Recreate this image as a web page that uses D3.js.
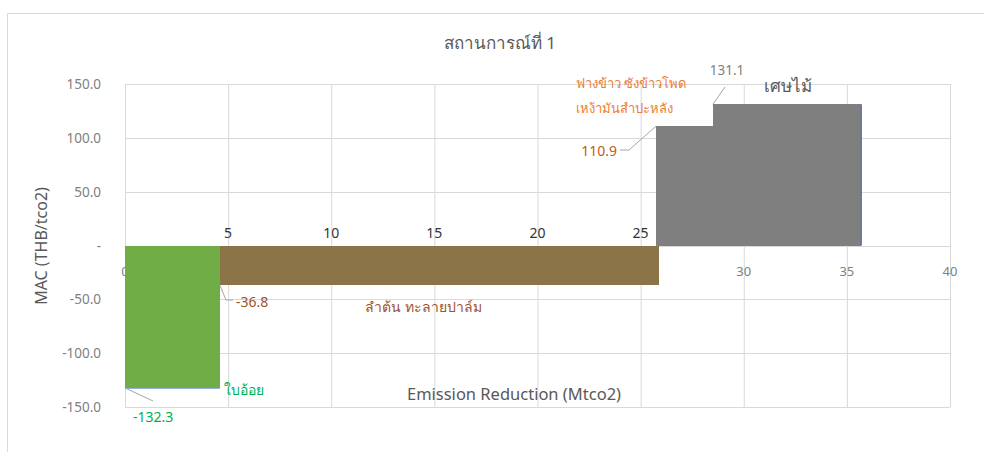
<!DOCTYPE html>
<html><head><meta charset="utf-8">
<script src="https://cdn.jsdelivr.net/npm/d3@7"></script>
<style>body{margin:0;background:#fff}svg{display:block;font-family:"Noto Sans","Open Sans",sans-serif}</style>
</head><body><svg id="c" width="984" height="452"></svg>
<script>
const categories = ["ใบอ้อย", "ลำต้น ทะลายปาล์ม", "ฟางข้าว ซังข้าวโพด เหง้ามันสำปะหลัง", "เศษไม้"];
const xStart = [0, 4.6, 25.75, 28.5];
const xEnd = [4.6, 25.9, 28.5, 35.7];
const mac = [-132.3, -36.8, 110.9, 131.1];
const colors = ["#70AD47", "#8B7447", "#7F7F7F", "#7F7F7F"];
const xTicks = [0, 5, 10, 15, 20, 25, 30, 35, 40];
const yTicks = [150, 100, 50, 0, -50, -100, -150];
const yTickLabels = ["150.0", "100.0", "50.0", "-", "-50.0", "-100.0", "-150.0"];

const svg = d3.select("#c");
const x = d3.scaleLinear().domain([0, 40]).range([125, 950]);
const y = d3.scaleLinear().domain([-150, 150]).range([407, 84]);

// outer border
svg.append("path").attr("d","M7.5,452 V13.5 H984").attr("fill","none").attr("stroke","#d9d9d9").attr("stroke-width",1);

// title
svg.append("text").attr("x",500).attr("y",49).attr("text-anchor","middle")
  .attr("font-size",17).attr("fill","#595959").text("สถานการณ์ที่ 1");

// grid
const g = svg.append("g");
g.selectAll(".vg").data(xTicks).join("line")
  .attr("x1",d=>x(d)+0.5).attr("x2",d=>x(d)+0.5).attr("y1",y(150)).attr("y2",y(-150))
  .attr("stroke","#d9d9d9").attr("stroke-width",1);
g.selectAll(".hg").data(yTicks).join("line")
  .attr("y1",d=>Math.round(y(d))+0.5).attr("y2",d=>Math.round(y(d))+0.5).attr("x1",x(0)).attr("x2",x(40))
  .attr("stroke","#d9d9d9").attr("stroke-width",1);

// y tick labels
svg.selectAll(".yl").data(yTicks).join("text")
  .attr("x",101).attr("y",d=>y(d)+5).attr("text-anchor","end")
  .attr("font-size",13.5).attr("fill","#808080")
  .text((d,i)=>yTickLabels[i]);

// x tick labels below axis (gray)
svg.selectAll(".xl").data(xTicks).join("text")
  .attr("x",d=>x(d)).attr("y",276).attr("text-anchor","middle")
  .attr("font-size",13).attr("fill","#808080").text(d=>d);

// bars
const idx = d3.range(categories.length);
svg.selectAll(".bar").data(idx).join("rect")
  .attr("x",i=>x(xStart[i])).attr("width",i=>x(xEnd[i])-x(xStart[i]))
  .attr("y",i=>y(Math.max(0,mac[i]))).attr("height",i=>Math.abs(y(mac[i])-y(0)))
  .attr("fill",i=>colors[i]).attr("shape-rendering","crispEdges");

// blue edge lines
svg.append("line").attr("x1",x(xEnd[3])).attr("x2",x(xEnd[3])).attr("y1",y(mac[3])).attr("y2",y(0))
  .attr("stroke","#4472C4").attr("stroke-width",1.2);
svg.append("line").attr("x1",x(0)).attr("x2",x(xEnd[0])).attr("y1",y(mac[0])+0.5).attr("y2",y(mac[0])+0.5)
  .attr("stroke","#8FAADC").attr("stroke-width",1);

// dark x labels above axis
svg.selectAll(".xd").data(xTicks.filter(d=>d>0 && d<30)).join("text")
  .attr("x",d=>x(d)).attr("y",238).attr("text-anchor","middle")
  .attr("font-size",14).attr("fill","#333").text(d=>d);

// axis titles
svg.append("text").attr("transform","translate(47,246) rotate(-90)").attr("text-anchor","middle")
  .attr("font-size",16).attr("fill","#595959").text("MAC (THB/tco2)");
svg.append("text").attr("x",514).attr("y",400).attr("text-anchor","middle")
  .attr("font-size",16.5).attr("fill","#595959").text("Emission Reduction (Mtco2)");

// leader lines
const lead = "#A6A6A6";
function path(d){svg.append("path").attr("d",d).attr("fill","none").attr("stroke",lead).attr("stroke-width",1);}
path(`M${x(0)},${y(mac[0])} L153,401`);
path(`M${x(xEnd[0])},${y(mac[1])} L226,300 L233,300`);
path(`M${x(xStart[2])},${y(mac[2])} L629,150 L620,150`);
path(`M${x(xStart[3])},${y(mac[3])} L725,87`);

// value labels
function lab(t,xx,yy,col,fs,anchor,weight){svg.append("text").attr("x",xx).attr("y",yy).attr("fill",col)
  .attr("font-size",fs).attr("text-anchor",anchor||"start").attr("font-weight",weight||"normal").text(t);}
lab(mac[0].toFixed(1),133,422,"#00B050",14);
lab(categories[0],224,395,"#00B050",14);
lab(mac[1].toFixed(1),236,307,"#A0522D",14);
lab(categories[1],365,312,"#A0522D",14);
lab(mac[2].toFixed(1),617,156,"#C55A11",14,"end");
lab("ฟางข้าว ซังข้าวโพด",576,88,"#ED7D31",13);
lab("เหง้ามันสำปะหลัง",576,113,"#ED7D31",13);
lab(mac[3].toFixed(1),727,75,"#7F7F7F",13.5,"middle");
lab(categories[3],764,92,"#595959",17);
</script></body></html>
